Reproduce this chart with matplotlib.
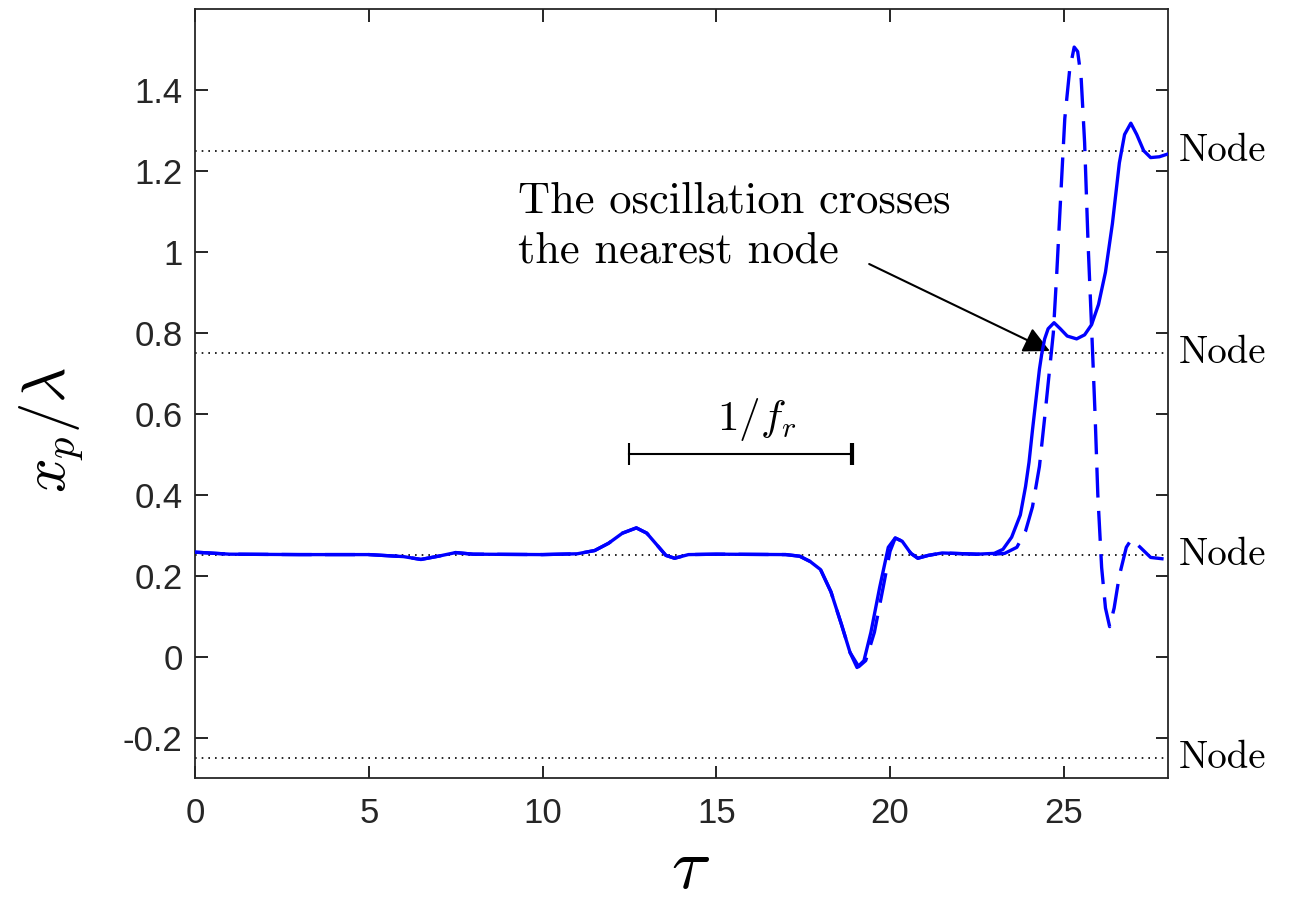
import matplotlib
matplotlib.use("Agg")
import matplotlib.pyplot as plt

plt.rcParams['mathtext.fontset'] = 'cm'
plt.rcParams['font.family'] = ['Liberation Sans', 'DejaVu Sans']

# solid curve
tau_solid = [0, 1, 3, 5, 6, 6.5, 7.0, 7.5, 8, 10, 11, 11.5, 11.9, 12.3, 12.7, 13.0,
             13.3, 13.55, 13.8, 14.2, 15, 17, 17.4, 17.7, 18.0, 18.3, 18.6, 18.85,
             19.05, 19.25, 19.45, 19.7, 19.95, 20.15, 20.35, 20.6, 20.8, 21.1, 21.5,
             22.5, 23.0, 23.25, 23.5, 23.75, 23.9, 24.0, 24.1, 24.2, 24.3, 24.37,
             24.45, 24.55, 24.72, 24.9, 25.1, 25.37, 25.6, 25.8, 26.0, 26.2, 26.4,
             26.6, 26.75, 26.93, 27.1, 27.3, 27.5, 27.75, 28]
xp_solid = [0.258, 0.253, 0.252, 0.252, 0.247, 0.240, 0.248, 0.257, 0.253, 0.252,
            0.254, 0.262, 0.280, 0.305, 0.318, 0.305, 0.275, 0.250, 0.243, 0.252,
            0.253, 0.252, 0.248, 0.235, 0.215, 0.160, 0.080, 0.010, -0.027, -0.010,
            0.060, 0.170, 0.270, 0.293, 0.285, 0.255, 0.243, 0.250, 0.256, 0.253,
            0.255, 0.265, 0.295, 0.350, 0.420, 0.480, 0.560, 0.635, 0.710, 0.750,
            0.785, 0.810, 0.825, 0.810, 0.792, 0.785, 0.795, 0.820, 0.870, 0.950,
            1.070, 1.220, 1.290, 1.318, 1.290, 1.250, 1.233, 1.235, 1.242]

# dashed curve
tau_dashed = [0, 1, 3, 5, 6, 6.5, 7.0, 7.5, 8, 10, 11, 11.5, 11.9, 12.3, 12.7, 13.0,
              13.3, 13.55, 13.8, 14.2, 15, 17, 17.4, 17.7, 18.0, 18.3, 18.6, 18.85,
              19.1, 19.3, 19.55, 19.8, 20.0, 20.15, 20.35, 20.6, 20.8, 21.1, 21.5,
              22.5, 23.0, 23.3, 23.65, 23.9, 24.1, 24.3, 24.45, 24.6, 24.7, 24.8,
              24.92, 25.03, 25.17, 25.3, 25.4, 25.5, 25.6, 25.7, 25.8, 25.9, 25.98,
              26.09, 26.2, 26.32, 26.45, 26.6, 26.8, 26.95, 27.2, 27.5, 28]
xp_dashed = [0.258, 0.253, 0.252, 0.252, 0.247, 0.240, 0.248, 0.257, 0.253, 0.252,
             0.254, 0.262, 0.280, 0.305, 0.318, 0.305, 0.275, 0.250, 0.243, 0.252,
             0.253, 0.252, 0.248, 0.235, 0.215, 0.160, 0.080, 0.010, -0.025, -0.010,
             0.060, 0.170, 0.260, 0.293, 0.285, 0.255, 0.243, 0.250, 0.256, 0.253,
             0.253, 0.255, 0.270, 0.310, 0.370, 0.470, 0.590, 0.716, 0.800, 0.950,
             1.150, 1.330, 1.450, 1.506, 1.495, 1.430, 1.270, 1.020, 0.815, 0.600,
             0.400, 0.220, 0.120, 0.074, 0.120, 0.200, 0.270, 0.290, 0.270, 0.245,
             0.240]

node_levels = [-0.25, 0.25, 0.75, 1.25]
xticks = [0, 5, 10, 15, 20, 25]
xtick_labels = ['0', '5', '10', '15', '20', '25']
yticks = [-0.2, 0, 0.2, 0.4, 0.6, 0.8, 1.0, 1.2, 1.4]
ytick_labels = ['-0.2', '0', '0.2', '0.4', '0.6', '0.8', '1', '1.2', '1.4']
period_bar = [12.5, 18.9]

fig = plt.figure(figsize=(13.03, 9.06), dpi=100)
ax = fig.add_axes([0.1497, 0.1413, 0.7467, 0.8487])

for lvl in node_levels:
    ax.axhline(lvl, color='black', lw=1.2, ls=(0, (1, 3)), zorder=1)
    ax.text(28.3, lvl, 'Node', family='cmr10', fontsize=28, va='center', ha='left')

ax.plot(tau_dashed, xp_dashed, color='blue', lw=2.4, ls=(0, (9, 4)), zorder=3)
ax.plot(tau_solid, xp_solid, color='blue', lw=2.4, zorder=4)

# 1/f_r bar
ax.plot(period_bar, [0.5, 0.5], color='black', lw=1.5)
ax.plot([period_bar[0]], [0.5], marker='|', ms=16, mew=1.5, color='black')
ax.plot([period_bar[1]], [0.5], marker='|', ms=16, mew=3, color='black')
ax.text(16.15, 0.585, r'$1/f_r$', fontsize=31, ha='center', va='center')

ax.text(9.28, 1.175, 'The oscillation crosses\nthe nearest node', family='cmr10',
        fontsize=32, va='top', ha='left', linespacing=1.32)
ax.annotate('', xy=(24.6, 0.755), xytext=(19.4, 0.97),
            arrowprops=dict(arrowstyle='-|>', color='black', lw=1.5,
                            mutation_scale=40, shrinkA=0, shrinkB=0))

ax.set_xlim(0, 28)
ax.set_ylim(-0.3, 1.6)
ax.set_xticks(xticks)
ax.set_xticklabels(xtick_labels)
ax.set_yticks(yticks)
ax.set_yticklabels(ytick_labels)
ax.tick_params(direction='in', length=9, width=1.2, top=True, right=True,
               labelsize=25, labelcolor='#262626')
ax.tick_params(axis='x', pad=14)
ax.tick_params(axis='y', pad=9)
for s in ax.spines.values():
    s.set_linewidth(1.3)
    s.set_color('#262626')

ax.set_xlabel(r'$\tau$', fontsize=52)
ax.set_ylabel(r'$x_p/\lambda$', fontsize=44)
ax.xaxis.set_label_coords(0.509, -0.075)
ax.yaxis.set_label_coords(-0.113, 0.4525)

fig.savefig('out.png', dpi=100)
